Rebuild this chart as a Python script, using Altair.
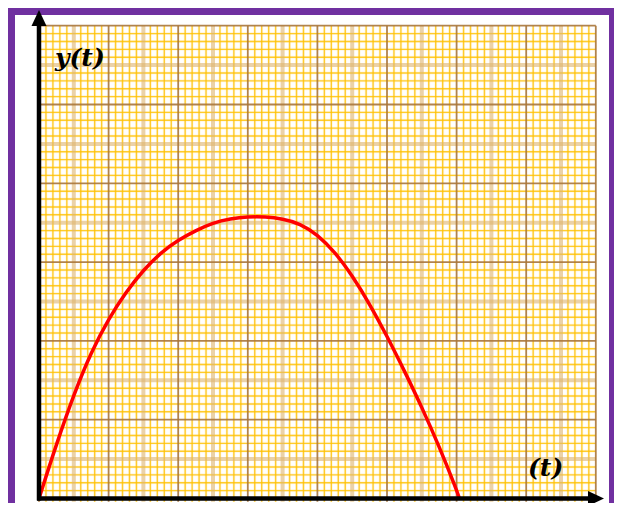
import altair as alt
import pandas as pd
import numpy as np

# ---- data (grid units) ----
curve_t = [0, 0.25, 0.5, 0.75, 1.0, 1.25, 1.5, 1.75, 2.0, 2.25, 2.5, 2.75, 3.0,
           3.25, 3.5, 3.75, 4.0, 4.25, 4.5, 4.75, 5.0, 5.25, 5.5, 5.75, 6.0, 6.04]
curve_y = [0, 0.69, 1.32, 1.86, 2.28, 2.62, 2.9, 3.12, 3.28, 3.4, 3.5, 3.55, 3.575,
           3.575, 3.55, 3.49, 3.35, 3.13, 2.83, 2.47, 2.06, 1.62, 1.16, 0.66, 0.11, 0]
x_cols = 8          # major columns of the graph paper
y_rows = 6          # major rows of the graph paper
minor_div = 10      # minor divisions per major cell
labels = ["y(t)", "(t)"]

# ---- layout ----
W, H = 606, 495
X0, Y0 = 31, 490.5      # origin in svg pixels
UX, UY = 69.6, 78.8     # pixels per grid unit
XS = alt.Scale(domain=[-X0 / UX, (W - X0) / UX], nice=False, zero=False)
YS = alt.Scale(domain=[-(H - Y0) / UY, Y0 / UY], nice=False, zero=False)

PURPLE = "#7030A0"
one = pd.DataFrame({"k": [0]})

steps = np.arange(0, x_cols * minor_div + 1)
xs = steps / minor_div
ysteps = np.arange(0, y_rows * minor_div + 1)
ys = ysteps / minor_div


def vlines(mask):
    return pd.DataFrame({"x": xs[mask], "y0": -0.04, "y1": float(y_rows)})


def hlines(mask):
    return pd.DataFrame({"y": ys[mask], "x0": 0.0, "x1": float(x_cols)})


def vrule(df, **kw):
    return alt.Chart(df).mark_rule(**kw).encode(
        x=alt.X("x:Q", scale=XS, axis=None),
        y=alt.Y("y0:Q", scale=YS, axis=None),
        y2="y1:Q",
    )


def hrule(df, **kw):
    return alt.Chart(df).mark_rule(**kw).encode(
        y=alt.Y("y:Q", scale=YS, axis=None),
        x=alt.X("x0:Q", scale=XS, axis=None),
        x2="x1:Q",
    )


minor_x = (steps % 5) != 0
mid_x = (steps % minor_div) == 5
major_x = (steps % minor_div) == 0
minor_y = (ysteps % 5) != 0
mid_y = (ysteps % minor_div) == 5
major_y = (ysteps % minor_div) == 0

halo_style = dict(color="#FFE9A8", strokeWidth=3.0, opacity=0.35)
minor_style = dict(color="#FFC000", strokeWidth=1.4, opacity=0.8)
mid_style = dict(color="#DDB46E", strokeWidth=4, opacity=0.6)
major_style = dict(color="#A8763A", strokeWidth=1.8, opacity=0.9)

grid = [
    vrule(vlines(minor_x), **halo_style), hrule(hlines(minor_y), **halo_style),
    vrule(vlines(minor_x), **minor_style), hrule(hlines(minor_y), **minor_style),
    vrule(vlines(mid_x), **mid_style), hrule(hlines(mid_y), **mid_style),
    vrule(vlines(major_x), **major_style), hrule(hlines(major_y), **major_style),
]

curve = alt.Chart(pd.DataFrame({"t": curve_t, "y": curve_y})).mark_line(
    color="#FF0000", strokeWidth=3.5, interpolate="basis"
).encode(
    x=alt.X("t:Q", scale=XS, axis=None),
    y=alt.Y("y:Q", scale=YS, axis=None),
)

# axes with arrows
y_axis = alt.Chart(one).mark_rule(color="black", strokeWidth=4.5).encode(
    x=alt.value(X0), y=alt.value(16), y2=alt.value(Y0 + 2))
x_axis = alt.Chart(one).mark_rule(color="black", strokeWidth=4.5).encode(
    y=alt.value(Y0), x=alt.value(X0 - 2), x2=alt.value(584))
up_head = alt.Chart(one).mark_point(
    shape="M0,-1L-0.94,1L0.94,1Z", filled=True, opacity=1, color="black",
    size=256, strokeWidth=0
).encode(x=alt.value(X0), y=alt.value(10))
right_head = alt.Chart(one).mark_point(
    shape="M1,0L-1,-0.94L-1,0.94Z", filled=True, opacity=1, color="black",
    size=256, strokeWidth=0
).encode(x=alt.value(588), y=alt.value(Y0))

lab_df = pd.DataFrame({"label": labels})
text_style = dict(font="DejaVu Serif", fontStyle="italic", fontWeight="bold",
                  fontSize=25, align="left", baseline="alphabetic", color="black")
ylab = alt.Chart(lab_df.iloc[[0]]).mark_text(**text_style).encode(
    text="label:N", x=alt.value(47), y=alt.value(58))
tlab = alt.Chart(lab_df.iloc[[1]]).mark_text(**text_style).encode(
    text="label:N", x=alt.value(520), y=alt.value(468))

# purple frame
def bar(x1, x2, y1, y2):
    return alt.Chart(one).mark_rect(color=PURPLE).encode(
        x=alt.value(x1), x2=alt.value(x2), y=alt.value(y1), y2=alt.value(y2))

frame = [bar(0, 7, 0, H), bar(0, W, 0, 7), bar(W - 5, W, 0, H)]

chart = alt.layer(
    *grid, curve, *frame, y_axis, x_axis, up_head, right_head, ylab, tlab
).properties(
    width=W, height=H, padding=0, autosize="none", background="white"
).configure_view(strokeWidth=0)

chart.save("out.html", embed_options={"renderer": "svg", "actions": False})
